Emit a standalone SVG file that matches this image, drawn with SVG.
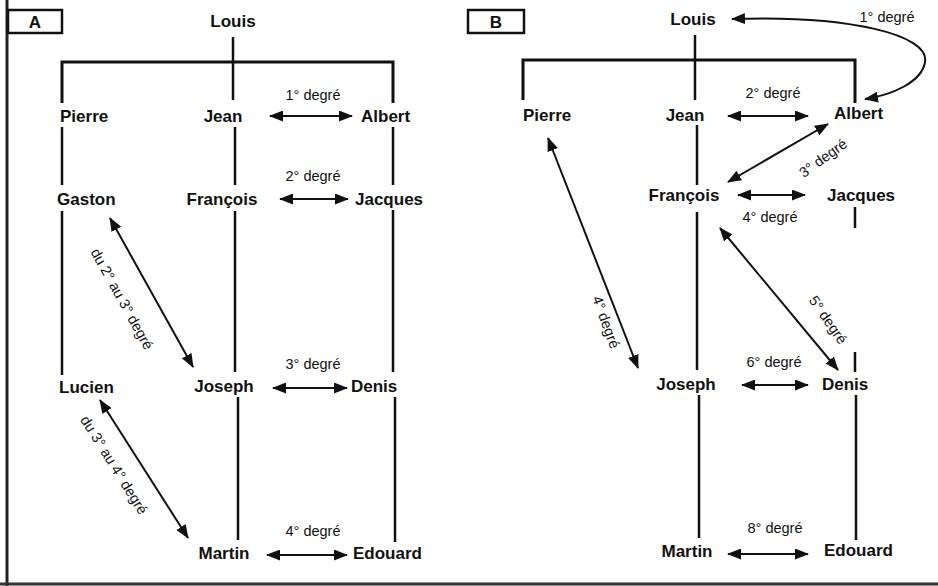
<svg xmlns="http://www.w3.org/2000/svg" width="938" height="586" viewBox="0 0 938 586">
<defs>
<marker id="ah" viewBox="0 0 14 11" refX="13" refY="5.5" markerWidth="14" markerHeight="11" markerUnits="userSpaceOnUse" orient="auto-start-reverse">
<path d="M0,0 L14,5.5 L0,11 Z" fill="#111"/>
</marker>
<style>
.n{font-family:"Liberation Sans",Arial,sans-serif;font-weight:bold;font-size:17px;fill:#111}
.d{font-family:"Liberation Sans",Arial,sans-serif;font-size:14.5px;fill:#111}
.t{stroke:#111;stroke-width:2.5;fill:none}
.b{stroke:#111;stroke-width:3;fill:none}
.a{stroke:#111;stroke-width:2;fill:none;marker-start:url(#ah);marker-end:url(#ah)}
.bx{stroke:#111;stroke-width:2.5;fill:#fff}
</style>
</defs>
<rect width="938" height="586" fill="#fff"/>
<g id="frame">
<line x1="7" y1="0" x2="7" y2="586" stroke="#222" stroke-width="3"/>
<line x1="0" y1="584" x2="938" y2="584" stroke="#333" stroke-width="3"/>
</g>
<g id="labelA"><rect class="bx" x="8" y="10" width="54" height="23"/><text class="n" x="35" y="28" text-anchor="middle" font-size="15">A</text></g>
<g id="labelB"><rect class="bx" x="468" y="10" width="56" height="23"/><text class="n" x="496" y="28" text-anchor="middle" font-size="15">B</text></g>

<g id="treeA">
<path class="t" d="M233,37 V100"/>
<path class="b" d="M62,103 V62 H393 V103"/>
<path class="t" d="M62,127 V185 M62,211 V375"/>
<path class="t" d="M235,127 V185 M235,211 V372 M238,397 V540"/>
<path class="t" d="M393,127 V185 M393,210 V372 M395,397 V542"/>
</g>
<g id="treeB">
<path class="t" d="M695,35 V100"/>
<path class="b" d="M523,100 V60 H855 V103"/>
<path class="t" d="M697,125 V185 M697,212 V370 M699,395 V538"/>
<path class="t" d="M855,207 V228 M855,352 V372 M856,395 V540"/>
</g>

<g id="A-Louis"><text class="n" x="233" y="27" text-anchor="middle">Louis</text></g>
<g id="A-Pierre"><text class="n" x="60" y="122">Pierre</text></g>
<g id="A-Jean"><text class="n" x="223" y="122" text-anchor="middle">Jean</text></g>
<g id="A-Albert"><text class="n" x="361" y="122">Albert</text></g>
<g id="A-Gaston"><text class="n" x="57" y="205">Gaston</text></g>
<g id="A-Francois"><text class="n" x="222" y="205" text-anchor="middle">François</text></g>
<g id="A-Jacques"><text class="n" x="355" y="205">Jacques</text></g>
<g id="A-Lucien"><text class="n" x="59" y="393">Lucien</text></g>
<g id="A-Joseph"><text class="n" x="224" y="392" text-anchor="middle">Joseph</text></g>
<g id="A-Denis"><text class="n" x="351" y="392">Denis</text></g>
<g id="A-Martin"><text class="n" x="224" y="559" text-anchor="middle">Martin</text></g>
<g id="A-Edouard"><text class="n" x="353" y="559">Edouard</text></g>

<g id="B-Louis"><text class="n" x="693" y="25" text-anchor="middle">Louis</text></g>
<g id="B-Pierre"><text class="n" x="523" y="121">Pierre</text></g>
<g id="B-Jean"><text class="n" x="685" y="121" text-anchor="middle">Jean</text></g>
<g id="B-Albert"><text class="n" x="834" y="119">Albert</text></g>
<g id="B-Francois"><text class="n" x="684" y="201" text-anchor="middle">François</text></g>
<g id="B-Jacques"><text class="n" x="827" y="201">Jacques</text></g>
<g id="B-Joseph"><text class="n" x="686" y="390" text-anchor="middle">Joseph</text></g>
<g id="B-Denis"><text class="n" x="822" y="390">Denis</text></g>
<g id="B-Martin"><text class="n" x="687" y="557" text-anchor="middle">Martin</text></g>
<g id="B-Edouard"><text class="n" x="824" y="556">Edouard</text></g>

<g id="connectors">
<line class="a" x1="270" y1="116" x2="352" y2="116"/>
<line class="a" x1="280" y1="199" x2="348" y2="199"/>
<line class="a" x1="273" y1="388" x2="347" y2="388"/>
<line class="a" x1="267" y1="555" x2="347" y2="555"/>
<line class="a" x1="110" y1="218" x2="193" y2="367"/>
<line class="a" x1="100" y1="400" x2="188" y2="538"/>

<line class="a" x1="728" y1="116" x2="808" y2="116"/>
<line class="a" x1="738" y1="195" x2="805" y2="195"/>
<line class="a" x1="742" y1="385" x2="808" y2="385"/>
<line class="a" x1="728" y1="554" x2="808" y2="554"/>
<line class="a" x1="548" y1="138" x2="638" y2="368"/>
<line class="a" x1="828" y1="124" x2="728" y2="182"/>
<line class="a" x1="720" y1="228" x2="838" y2="370"/>
<path class="a" d="M732,19 C850,15 930,35 925,62 C922,82 892,95 865,99"/>
</g>

<g id="labels">
<text class="d" x="313" y="100" text-anchor="middle">1° degré</text>
<text class="d" x="313" y="181" text-anchor="middle">2° degré</text>
<text class="d" x="313" y="369" text-anchor="middle">3° degré</text>
<text class="d" x="313" y="536" text-anchor="middle">4° degré</text>
<text class="d" text-anchor="middle" transform="translate(122,299) rotate(61)" y="5">du 2° au 3° degré</text>
<text class="d" text-anchor="middle" transform="translate(114,465) rotate(58)" y="5">du 3° au 4° degré</text>

<text class="d" x="887" y="22" text-anchor="middle">1° degré</text>
<text class="d" x="773" y="98" text-anchor="middle">2° degré</text>
<text class="d" x="770" y="222" text-anchor="middle">4° degré</text>
<text class="d" x="774" y="367" text-anchor="middle">6° degré</text>
<text class="d" x="775" y="533" text-anchor="middle">8° degré</text>
<text class="d" text-anchor="middle" transform="translate(823,158) rotate(-36)" y="5">3° degré</text>
<text class="d" text-anchor="middle" transform="translate(828,320) rotate(55)" y="5">5° degré</text>
<text class="d" text-anchor="middle" transform="translate(606,322) rotate(70)" y="5">4° degré</text>
</g>
</svg>
